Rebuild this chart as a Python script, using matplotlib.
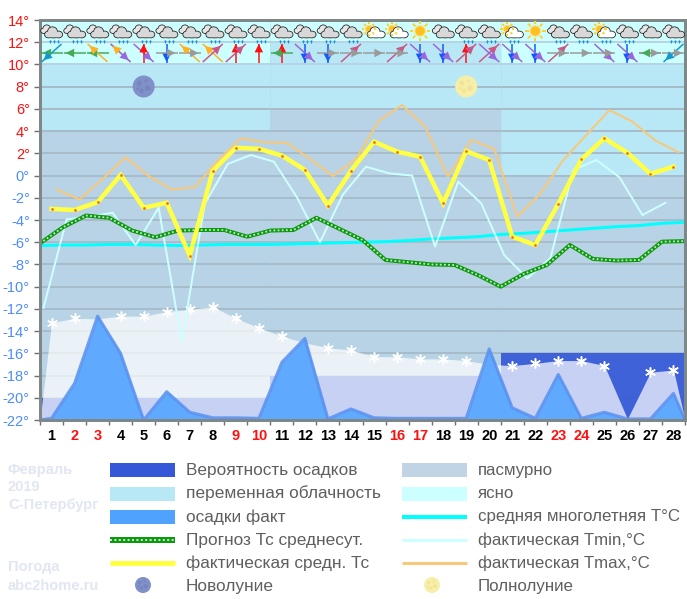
import matplotlib
matplotlib.use("Agg")
import matplotlib.pyplot as plt
from matplotlib.patches import Ellipse, Rectangle

plt.rcParams['font.family'] = ['Liberation Sans', 'DejaVu Sans']

days = list(range(1, 29))
red_days = [2, 3, 9, 10, 16, 17, 23, 24]
y_ticks = list(range(-22, 16, 2))

# values per day
t_mean = [-3.0, -3.1, -2.4, 0.05, -2.9, -2.45, -7.2, 0.43, 2.5, 2.4, 1.8, 0.5, -2.7, 0.43,
          3.05, 2.15, 1.7, -2.5, 2.2, 1.4, -5.5, -6.25, -2.55, 1.45, 3.35, 2.05, 0.15, 0.8]
t_max = [-1.25, -2.15, -0.3, 1.65, -0.05, -1.25, -1.05, 1.35, 3.35, 3.0, 2.95, 1.5, -0.05, 1.5,
         4.95, 6.35, 4.4, -0.1, 3.2, 2.4, -3.7, -1.65, 1.4, 3.65, 5.9, 4.85, 3.15, 2.1]
t_min = [-11.9, -3.95, -3.7, -3.35, -6.25, -2.9, -14.95, -2.55, 1.05, 1.85, 1.25, -1.95, -6.0, -1.7,
         0.8, 0.2, 0.0, -6.4, -0.55, -2.5, -7.15, -9.25, -7.45, 0.5, 1.4, -0.15, -3.55, -2.45]
precip = [-21.85, -18.7, -12.65, -16.0, -22.0, -19.45, -21.3, -21.8, -21.8, -21.85, -16.8, -14.65,
          -21.9, -21.0, -21.8, -21.85, -21.85, -21.85, -21.85, -15.6, -20.9, -21.85, -17.9, -21.85,
          -21.3, -21.9, -21.9, -19.6]
snow = [-13.25, -12.85, -12.9, -12.65, -12.65, -12.25, -12.05, -11.8, -12.85, -13.7, -14.45, -15.05,
        -15.5, -15.7, -16.3, -16.3, -16.5, -16.5, -16.65, -17.0, -17.1, -16.9, -16.65, -16.65,
        -17.1, -21.9, -17.7, -17.5]
no_flake_days = [3, 12, 20, 26]

# values at the day boundaries 0..28
forecast = [-6.1, -4.65, -3.6, -3.8, -4.95, -5.55, -4.95, -4.9, -4.9, -5.5, -4.95, -4.9, -3.8, -4.8,
            -5.8, -7.6, -7.8, -8.0, -8.05, -8.95, -10.0, -8.85, -8.05, -6.25, -7.5, -7.65, -7.6,
            -5.95, -5.9]
normal = [-6.3, -6.25, -6.25, -6.2, -6.2, -6.25, -6.3, -6.25, -6.2, -6.2, -6.2, -6.15, -6.1, -6.05,
          -6.0, -5.95, -5.85, -5.7, -5.6, -5.5, -5.3, -5.2, -5.05, -4.9, -4.75, -4.6, -4.5, -4.3, -4.2]

# one value per ten days
decades = [0, 10, 20, 28]
prob_top = [-20, -18, -16]
partly_bottom = [4, 6, 0]

weather = ['cs'] * 14 + ['sc', 'sc', 'sun', 'c', 'cs', 'cs', 'scs', 'sun', 'cs', 'cs', 'scs', 'cs', 'c', 'cs']
wind = [['W', 'SW'], ['W'], ['W', 'NW'], ['NW', 'SE'], ['SE', 'N'], ['S', 'E'], ['NW', 'E'],
        ['NW', 'NE'], ['N', 'NE'], ['N'], ['N', 'W'], ['S', 'SE'], ['S', 'E'], ['NE', 'E'],
        ['E'], ['NE', 'E'], ['S', 'SE'], ['S', 'SE'], ['N', 'NE'], ['NE', 'SE'], ['S', 'SE'],
        ['S', 'SE'], ['NE', 'E'], ['E'], ['SE', 'E'], ['S', 'SE'], ['W', 'E'], ['SW', 'E']]
new_moon_day = 5
full_moon_day = 19

legend_left = ['Вероятность осадков', 'переменная облачность', 'осадки факт',
               'Прогноз Тс среднесут.', 'фактическая средн. Тс', 'Новолуние']
legend_right = ['пасмурно', 'ясно', 'средняя многолетняя Т°С',
                'фактическая Tmin,°С', 'фактическая Tmax,°С', 'Полнолуние']

W_PX, H_PX = 687, 599
AX_L, AX_R, AX_T, AX_B = 40, 685, 20, 420
STEP = (AX_R - AX_L) / 28

CLEAR = '#ccffff'
PARTLY = '#b8e8f6'
OVERCAST = '#b8d3e6'
PROB = '#3558d8'
RAIN = '#5fa9ff'
GRID = '#a6bccb'
WIND_COL = {'N': '#ff1010', 'S': '#1058ff', 'E': '#9a9a9a', 'W': '#44aa55',
            'NE': '#cc5588', 'NW': '#ffb020', 'SE': '#9966dd', 'SW': '#1199cc'}
WIND_DIR = {'N': (0, -1), 'S': (0, 1), 'E': (1, 0), 'W': (-1, 0),
            'NE': (1, -1), 'NW': (-1, -1), 'SE': (1, 1), 'SW': (-1, 1)}

fig = plt.figure(figsize=(W_PX / 100, H_PX / 100), dpi=100, facecolor='white')
ax = fig.add_axes([AX_L / W_PX, 1 - AX_B / H_PX, (AX_R - AX_L) / W_PX, (AX_B - AX_T) / H_PX])
ax.set_xlim(0, 28)
ax.set_ylim(-22, 14)

mid = [d - 0.5 for d in days]
bounds = list(range(0, 29))


def lw(px):
    return px * 0.72


# background bands
for i in range(3):
    x0, x1 = decades[i], decades[i + 1]
    ax.fill_between([x0, x1], [-22, -22], [14, 14], color=OVERCAST, lw=0, zorder=0)
    ax.fill_between([x0, x1], [partly_bottom[i]] * 2, [12, 12], color=PARTLY, lw=0, zorder=0)
    # sits over the grid so the lines only show faintly through it
    ax.fill_between([x0, x1], [-22, -22], [prob_top[i]] * 2, color=PROB, alpha=0.92, lw=0, zorder=1.5)
    if i != 1:
        ax.fill_between([x0, x1], [10, 10], [12, 12], color=CLEAR, lw=0, zorder=0)
ax.fill_between([0, 28], [12, 12], [14, 14], color=CLEAR, lw=0, zorder=0)

# grid
for t in y_ticks[1:-1]:
    col = '#b8d3e6' if t >= 10 else GRID
    ax.plot([0, 27.95], [t, t], color=col, lw=lw(2), zorder=1, solid_capstyle='butt')
for x in decades[1:3]:
    ax.plot([x, x], [-22, 14], color='#a8d8d8', lw=0.6, ls=':', zorder=1)

# snow cover and rain
ax.fill_between([0] + mid + [28], [-22] + snow + [-22], -22, color='white', alpha=0.71, lw=0, zorder=2)
ax.fill_between([0] + mid + [28], [-22] + precip + [-22], -22, color=RAIN, lw=0, zorder=3)
ax.plot([0] + mid + [28], [-22] + precip + [-22], color='#5a90f0', lw=lw(3), alpha=0.85, zorder=3.5)
ax.scatter([m for m, d in zip(mid, days) if d not in no_flake_days],
           [s for s, d in zip(snow, days) if d not in no_flake_days],
           marker=(6, 2, 0), s=48, color='white', lw=1.1, zorder=4)

# temperature lines
x_tmin = [m - 8 / STEP for m in mid]
x_tmax = [m + 5 / STEP for m in mid]
ax.plot(bounds, normal, color='#00ffff', lw=lw(3), zorder=5)
ax.plot(x_tmin, t_min, color=CLEAR, lw=lw(2), zorder=5.2)
ax.plot(x_tmax, t_max, color='#f8c878', lw=lw(2), zorder=5.4)
ax.plot(bounds, forecast, color='#0c9a0c', lw=lw(4), zorder=5.6)
ax.plot(bounds, forecast, color='#c4e8cc', lw=lw(1.8), ls=(0, (1, 1.3)), zorder=5.7)
ax.plot(mid, t_mean, color='#ffff44', lw=lw(4.5), zorder=6, solid_joinstyle='miter')
ax.scatter(mid, t_mean, s=4, color='#f07020', lw=0, zorder=6.5)

# frame and ticks
ax.set_xticks(bounds)
ax.set_xticklabels([])
ax.set_yticks(y_ticks)
ax.set_yticklabels([f'{t}°' for t in y_ticks], fontsize=10.5)
for t, lab in zip(y_ticks, ax.get_yticklabels()):
    lab.set_color('#ff1010' if t > 0 else '#4c8cff')
ax.tick_params(axis='x', color='#707070', width=1, length=3.6)
ax.tick_params(axis='y', color='#707070', width=1, length=4.3, pad=3)
for name, spine in ax.spines.items():
    spine.set_color('#7f8888')
    spine.set_linewidth(lw(3))
    spine.set_zorder(8)
for d, m in zip(days, mid):
    ax.annotate(str(d), xy=(m, -22), xytext=(0, -16), textcoords='offset pixels', ha='center', va='center',
                fontsize=10.5, fontweight='bold', color='#ff1010' if d in red_days else 'black',
                annotation_clip=False)

# overlay in pixel coordinates for icons, moons and legend
ov = fig.add_axes([0, 0, 1, 1], zorder=10)
ov.set_xlim(0, W_PX)
ov.set_ylim(H_PX, 0)
ov.axis('off')


def day_px(d):
    return AX_L + (d - 0.5) * STEP


def sun(x, y, r):
    for dx, dy in [(1, 0), (-1, 0), (0, 1), (0, -1), (.7, .7), (-.7, .7), (.7, -.7), (-.7, -.7)]:
        ov.plot([x + dx * r * 1.3, x + dx * r * 2], [y + dy * r * 1.3, y + dy * r * 2],
                color='#ffd030', lw=1.4, solid_capstyle='butt')
    ov.add_patch(Ellipse((x, y), 2 * r, 2 * r, fc='#ffc020', ec='#ffe070', lw=0.8))


def cloud(x, y, fill, k=1.0):
    # (x, y) is the middle of the flat base of the cloud
    blobs = [(-5, -3, 7, 6), (5, -3, 7.5, 6), (-1, -6, 9, 8.5), (0, -2.2, 15, 4.4)]
    for dx, dy, w, h in blobs:
        ov.add_patch(Ellipse((x + dx * k, y + dy * k), w * k + 1.6, h * k + 1.6, fc='#222222', ec='none'))
    for dx, dy, w, h in blobs:
        ov.add_patch(Ellipse((x + dx * k, y + dy * k), w * k, h * k, fc=fill, ec='none'))


def flakes(x):
    for dx in (-4, 0, 4):
        ov.plot([x + dx + 1, x + dx + 3], [41, 41], color='#1090e0', lw=1.0, solid_capstyle='butt')
        ov.plot([x + dx + 2, x + dx + 2], [39.5, 42.5], color='#1090e0', lw=0.7, solid_capstyle='butt')


for d, w in zip(days, weather):
    x = day_px(d)
    if w in ('cs', 'c'):
        cloud(x - 4, 33, '#e6e6e6', 0.75)
        cloud(x + 2, 37.5, '#d8d8d8')
    elif w in ('sc', 'scs'):
        sun(x - 5, 29, 3.6)
        cloud(x + 2, 37.5, 'white')
    else:
        sun(x, 31, 5.2)
    if w in ('cs', 'scs'):
        flakes(x)

for d, dirs in zip(days, wind):
    x = day_px(d)
    for code in dirs:
        ux, uy = WIND_DIR[code]
        if ux and uy:
            hx, hy = 10, 9
        else:
            hx, hy = 11, 9.5
        col = WIND_COL[code]
        # the shaft runs through the cell centre, the head sits past the middle
        ov.plot([x - ux * hx, x + ux * hx], [53 - uy * hy, 53 + uy * hy], color=col, lw=lw(1.5),
                solid_capstyle='butt')
        k = 0.95 if code in ('N', 'S') else 0.8
        ov.annotate('', xy=(x + ux * hx * k, 53 + uy * hy * k), xytext=(x, 53),
                    arrowprops=dict(arrowstyle='-|>,head_width=0.28,head_length=0.55', color=col, lw=0,
                                    mutation_scale=11, shrinkA=0, shrinkB=0))


def moon(x, y, rx, ry, fill, spot):
    ov.add_patch(Ellipse((x, y), 2 * rx, 2 * ry, fc=fill, ec='none'))
    for fx, fy, fr in [(-.4, -.3, .22), (.2, -.5, .14), (.35, .15, .25), (-.2, .4, .2), (-.55, .2, .12)]:
        ov.add_patch(Ellipse((x + fx * rx, y + fy * ry), 2 * fr * rx, 2 * fr * ry, fc=spot, ec='none'))


moon(day_px(new_moon_day), 86.5, 11, 11, '#8090c8', '#7686bc')
moon(day_px(full_moon_day), 86.5, 11, 11, '#f7eea8', '#efe49a')

# legend
ROWS = [470, 493.5, 517, 540, 563, 586]
LEFT_X, RIGHT_X = 110, 402
SW_W = 65
TEXT_COL = '#5f5f5f'
for y, label in zip(ROWS, legend_left):
    ov.text(186, y, label, fontsize=12.4, color=TEXT_COL, va='center', ha='left')
for y, label in zip(ROWS, legend_right):
    ov.text(478, y, label, fontsize=12.2, color=TEXT_COL, va='center', ha='left')

for y, col in zip(ROWS[:3], [PROB, '#b8e8f6', '#4fa3ff']):
    ov.add_patch(Rectangle((LEFT_X, y - 7), SW_W, 14, fc=col, ec='none'))
for y, col in zip(ROWS[:2], ['#c0d4e6', CLEAR]):
    ov.add_patch(Rectangle((RIGHT_X, y - 7), SW_W, 14, fc=col, ec='none'))
ov.plot([LEFT_X, LEFT_X + SW_W], [ROWS[3], ROWS[3]], color='#0c9a0c', lw=lw(6), solid_capstyle='butt')
ov.plot([LEFT_X, LEFT_X + SW_W], [ROWS[3], ROWS[3]], color='#c4e8cc', lw=lw(2), ls=(0, (1, 1.2)))
ov.plot([LEFT_X, LEFT_X + SW_W], [ROWS[4], ROWS[4]], color='#ffff44', lw=lw(5), solid_capstyle='butt')
ov.plot([RIGHT_X, RIGHT_X + SW_W], [ROWS[2], ROWS[2]], color='#00ffff', lw=lw(4), solid_capstyle='butt')
ov.plot([RIGHT_X, RIGHT_X + SW_W], [ROWS[3], ROWS[3]], color=CLEAR, lw=lw(3), solid_capstyle='butt')
ov.plot([RIGHT_X, RIGHT_X + SW_W], [ROWS[4], ROWS[4]], color='#f8c878', lw=lw(3), solid_capstyle='butt')
moon(143, 585, 8, 8, '#8090c8', '#7686bc')
moon(432, 585, 8, 8, '#f7eea8', '#efe49a')

# faint captions on the left
for y, s in [(470, 'Февраль'), (487, '2019'), (505, 'С-Петербург'), (567, 'Погода'), (586, 'abc2home.ru')]:
    ov.text(8, y, s, fontsize=10.5, fontweight='bold', color='#e2e6f2', va='center', ha='left')

fig.savefig('out.png', dpi=100)
